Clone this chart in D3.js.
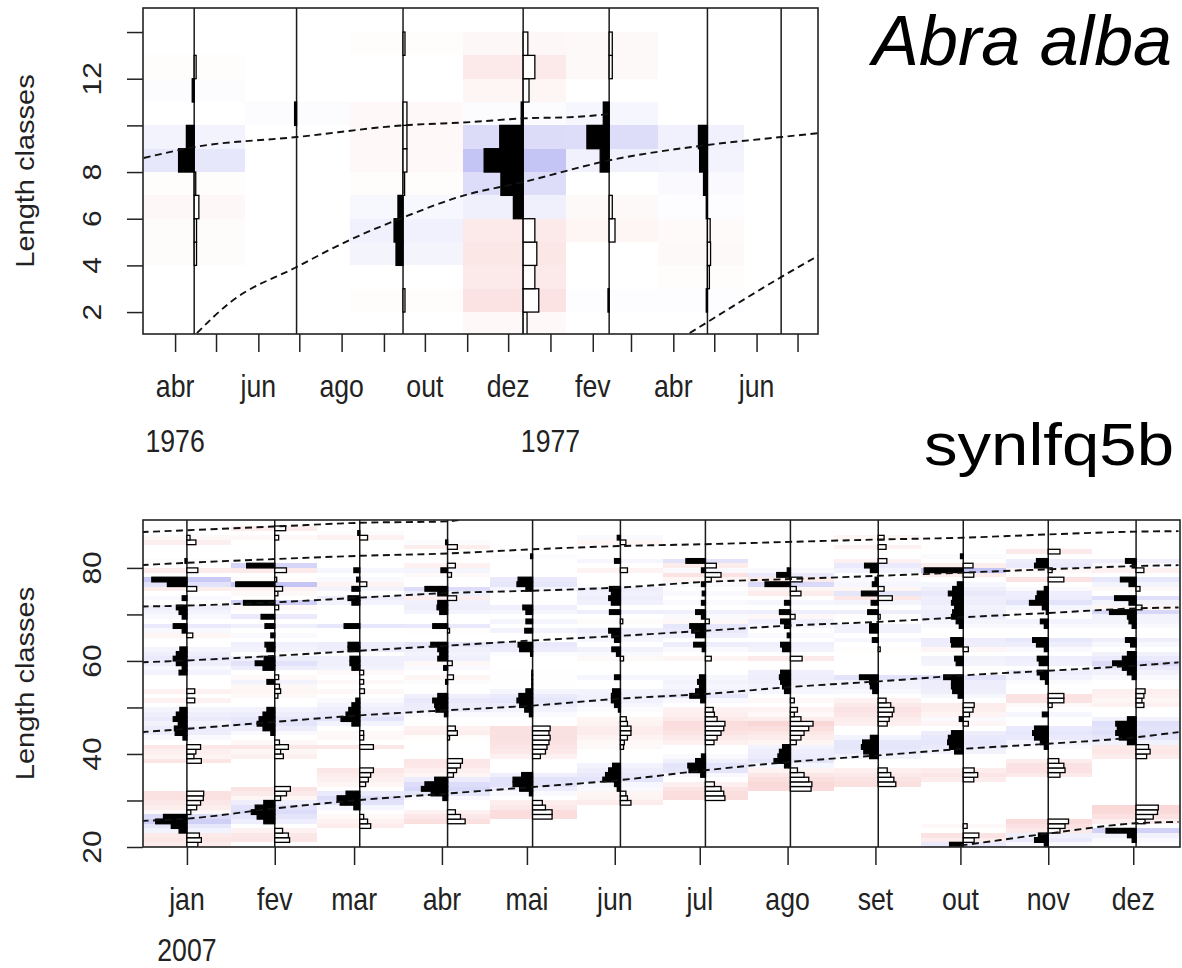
<!DOCTYPE html>
<html><head><meta charset="utf-8"><title>LFQ restructured</title>
<script src="https://cdn.jsdelivr.net/npm/d3@7/dist/d3.min.js"></script>
<style>html,body{margin:0;padding:0;background:#fff}svg{display:block}</style>
</head><body>
<svg id="chart" width="1182" height="968"></svg>
<script>
// ===================== DATA: Abra alba (top) =====================
const abraSampleDates = ["1976-04-15","1976-06-29","1976-09-15","1976-12-12","1977-02-13","1977-04-26","1977-06-19"];
// [class lower bound, restructured score]  (class width 1)
const abraApr76 = [[4,-0.06],[5,-0.06],[6,-0.12],[7,-0.04],[8,0.4],[9,0.2],[11,0.05],[12,-0.05]];
const abraJun76 = [[10,0.05]];
const abraSep76 = [[2,-0.05],[4,0.18],[5,0.23],[6,0.13],[7,-0.04],[8,-0.1],[9,-0.1],[10,-0.1],[13,-0.05]];
const abraDec76 = [[1,-0.1],[2,-0.4],[3,-0.3],[4,-0.35],[5,-0.3],[6,0.25],[7,0.57],[8,1.0],[9,0.6],[10,0.05],[11,-0.15],[12,-0.3],[13,-0.12]];
const abraFeb77 = [[2,0.03],[5,-0.15],[6,-0.08],[8,0.23],[9,0.57],[10,0.15],[12,-0.08],[13,-0.08]];
const abraApr77 = [[2,0.03],[3,-0.05],[4,-0.08],[5,-0.07],[6,0.03],[7,0.1],[8,0.2],[9,0.23]];
const abraJun77 = [];
const abraCurve1 = [["1976-03-09",8.6],["1976-04-15",9.07],["1976-06-29",9.5],["1976-09-15",10.0],["1976-11-03",10.14],["1976-12-12",10.3],["1977-01-19",10.36],["1977-02-15",10.5]];
const abraCurve2 = [["1976-04-17",1.1],["1976-05-11",2.4],["1976-06-29",3.93],["1976-08-07",5.09],["1976-09-15",6.05],["1976-10-28",6.97],["1976-12-12",7.57],["1977-02-13",8.5],["1977-04-26",9.16],["1977-06-19",9.5],["1977-07-17",9.67]];
const abraCurve3 = [["1977-04-13",1.1],["1977-04-26",1.57],["1977-06-19",3.5],["1977-07-17",4.44]];
const abraMonthTicks = ["1976-04-01","1976-05-01","1976-06-01","1976-07-01","1976-08-01","1976-09-01","1976-10-01","1976-11-01","1976-12-01","1977-01-01","1977-02-01","1977-03-01","1977-04-01","1977-05-01","1977-06-01","1977-07-01"];
const abraMonthLabels = ["abr","","jun","","ago","","out","","dez","","fev","","abr","","jun",""];
const abraYearTicks = ["1976-04-01","1977-01-01"];
const abraYearLabels = ["1976","1977"];
const abraYTicks = [2,4,6,8,10,12,14];
const abraYLabels = ["2","4","6","8","","12",""];

// ===================== DATA: synlfq5b (bottom) =====================
const synSampleDates = ["2007-01-01","2007-02-01","2007-03-03","2007-04-03","2007-05-03","2007-06-03","2007-07-03","2007-08-02","2007-09-02","2007-10-02","2007-11-01","2007-12-02"];
const synJan = [[20,-0.28],[21,-0.37],[22,-0.32],[23,0.2],[24,0.4],[25,0.8],[26,0.6],[27,-0.1],[28,-0.25],[29,-0.35],[30,-0.42],[31,-0.43],[38,-0.37],[39,-0.18],[40,-0.23],[41,-0.35],[43,0.1],[44,0.3],[45,0.32],[46,0.22],[47,0.35],[48,0.27],[49,0.18],[51,-0.2],[53,-0.2],[57,0.2],[58,0.12],[59,0.27],[60,0.35],[61,0.27],[62,0.18],[65,-0.15],[66,0.12],[67,0.35],[69,0.12],[70,0.2],[71,0.27],[73,0.12],[75,-0.25],[76,0.5],[77,0.9],[79,-0.28],[81,0.05],[85,-0.23],[86,-0.08]];
const synFev = [[21,-0.38],[22,-0.35],[23,-0.2],[25,0.28],[26,0.45],[27,0.6],[28,0.5],[29,0.28],[30,-0.15],[31,-0.3],[32,-0.4],[39,-0.22],[40,-0.15],[41,-0.35],[42,-0.12],[44,0.1],[45,0.3],[46,0.45],[47,0.4],[48,0.3],[49,0.2],[52,-0.08],[53,-0.15],[54,-0.12],[55,0.2],[56,-0.1],[58,0.3],[59,0.5],[60,0.27],[62,0.2],[63,0.25],[65,0.1],[67,0.25],[69,0.35],[71,-0.1],[72,0.8],[74,-0.08],[75,-0.2],[76,1.0],[77,-0.05],[79,-0.3],[80,0.72],[86,-0.1],[88,-0.28]];
const synMar = [[24,-0.28],[25,-0.2],[26,-0.1],[28,0.15],[29,0.5],[30,0.58],[31,0.35],[33,-0.15],[34,-0.22],[35,-0.28],[36,-0.35],[41,-0.35],[43,-0.1],[44,-0.1],[46,0.2],[47,0.48],[48,0.35],[49,0.28],[50,0.2],[51,0.1],[53,-0.12],[55,-0.1],[57,-0.1],[58,0.2],[59,0.25],[60,0.25],[62,0.3],[63,0.3],[67,0.4],[72,0.2],[73,0.3],[75,0.2],[76,-0.18],[77,0.08],[79,0.15],[86,-0.2],[87,0.05]];
const synAbr = [[25,-0.45],[26,-0.33],[27,-0.2],[30,0.12],[31,0.42],[32,0.67],[33,0.58],[34,0.33],[35,-0.15],[36,-0.23],[37,-0.33],[38,-0.38],[43,-0.05],[44,-0.25],[45,-0.2],[48,0.08],[49,0.3],[50,0.33],[51,0.38],[52,0.25],[55,0.05],[56,-0.15],[58,0.1],[59,-0.12],[60,0.25],[61,0.2],[62,0.25],[63,0.43],[66,-0.05],[67,0.38],[70,0.2],[71,0.27],[72,0.25],[73,-0.23],[74,0.25],[75,0.58],[78,-0.1],[79,0.17],[80,-0.2],[84,-0.25],[85,0.05]];
const synMai = [[26,-0.5],[27,-0.5],[28,-0.33],[29,-0.25],[31,0.08],[32,0.33],[33,0.5],[34,0.5],[35,0.28],[39,-0.2],[40,-0.33],[41,-0.37],[42,-0.42],[43,-0.45],[44,-0.42],[45,-0.45],[48,0.08],[49,0.2],[50,0.33],[51,0.4],[52,0.35],[53,0.17],[54,0.02],[55,0.02],[56,0.02],[57,0.02],[61,0.05],[62,0.33],[63,0.37],[66,0.2],[68,0.17],[70,0.17],[71,0.25],[75,0.17],[76,0.4],[77,0.37],[82,0.05]];
const synJun = [[29,-0.27],[30,-0.18],[31,-0.14],[32,0.08],[33,0.15],[34,0.45],[35,0.38],[36,0.3],[37,0.2],[41,-0.08],[42,-0.1],[43,-0.18],[44,-0.27],[45,-0.27],[46,-0.18],[47,-0.15],[49,0.05],[50,0.15],[51,0.23],[52,0.23],[53,0.2],[56,0.15],[60,-0.08],[61,0.1],[62,0.22],[64,0.15],[65,0.22],[66,0.3],[68,-0.06],[70,0.28],[72,0.23],[73,0.3],[74,0.23],[75,0.28],[79,-0.18],[81,0.15],[85,-0.14],[86,0.08]];
const synJul = [[30,-0.5],[31,-0.47],[32,-0.4],[33,-0.23],[35,0.12],[36,0.42],[37,0.45],[38,0.25],[39,0.1],[42,-0.22],[43,-0.3],[44,-0.4],[45,-0.47],[46,-0.5],[47,-0.3],[48,-0.23],[49,-0.2],[51,0.12],[52,0.4],[53,0.25],[54,0.15],[55,0.2],[56,0.15],[60,-0.15],[62,0.08],[63,0.3],[65,0.25],[66,0.35],[67,0.4],[68,-0.1],[69,0.1],[70,0.25],[72,0.1],[74,0.08],[76,0.1],[77,-0.15],[78,-0.4],[79,0.1],[80,-0.28],[81,0.5]];
const synAgo = [[32,-0.53],[33,-0.55],[34,-0.47],[35,-0.35],[36,-0.18],[37,0.15],[38,0.42],[39,0.32],[40,0.28],[41,0.2],[42,-0.15],[43,-0.27],[44,-0.35],[45,-0.47],[46,-0.58],[47,-0.27],[48,-0.1],[49,-0.18],[51,-0.1],[53,0.15],[54,0.2],[55,0.25],[56,0.28],[57,0.25],[60,-0.3],[62,0.2],[63,0.25],[65,0.08],[67,0.15],[68,0.25],[69,-0.12],[70,0.28],[72,0.15],[74,-0.27],[75,-0.15],[76,0.65],[77,-0.3],[78,0.35],[79,0.08]];
const synSet = [[33,-0.45],[34,-0.4],[35,-0.32],[36,-0.23],[39,0.22],[40,0.37],[41,0.43],[42,0.4],[43,0.2],[46,-0.23],[47,-0.28],[48,-0.36],[49,-0.4],[50,-0.32],[51,-0.2],[53,0.14],[54,0.2],[55,0.22],[56,0.48],[62,-0.05],[64,0.15],[66,0.22],[67,0.22],[69,-0.05],[70,0.27],[72,0.18],[73,-0.36],[74,0.43],[75,-0.15],[76,0.15],[77,0.08],[79,0.2],[80,0.35],[81,-0.22],[84,-0.2],[86,-0.15]];
const synOut = [[20,0.35],[21,-0.28],[22,-0.4],[24,-0.1],[34,-0.27],[35,-0.37],[36,-0.28],[40,0.22],[41,0.35],[42,0.4],[43,0.38],[44,0.3],[46,-0.13],[47,0.1],[48,-0.16],[49,-0.25],[50,-0.28],[52,0.13],[53,0.27],[54,0.3],[55,0.3],[56,0.5],[59,0.18],[60,0.22],[62,-0.13],[63,0.3],[64,0.32],[67,0.1],[68,0.18],[69,0.3],[70,0.27],[71,0.22],[72,0.3],[73,0.27],[74,0.38],[75,0.27],[76,0.15],[78,-0.27],[79,1.0],[80,-0.25],[82,0.07]];
const synNov = [[20,0.1],[21,0.35],[22,0.25],[23,-0.3],[24,-0.43],[25,-0.52],[35,-0.3],[36,-0.43],[37,-0.4],[38,-0.27],[41,0.1],[42,0.2],[43,0.35],[44,0.4],[45,0.35],[48,0.15],[50,-0.1],[51,-0.4],[52,-0.4],[55,0.07],[56,0.2],[57,0.28],[59,0.23],[60,0.28],[62,0.1],[63,0.3],[64,0.4],[67,0.1],[68,0.2],[70,0.05],[71,0.15],[72,0.48],[73,0.32],[74,0.28],[75,0.1],[77,-0.4],[79,-0.1],[80,0.35],[81,0.3],[83,-0.3]];
const synDez = [[21,0.1],[22,0.22],[23,0.77],[25,-0.23],[26,-0.44],[27,-0.55],[28,-0.57],[39,-0.27],[40,-0.36],[41,-0.32],[42,0.22],[43,0.43],[44,0.52],[45,0.48],[46,0.52],[47,0.22],[50,-0.2],[51,-0.15],[52,-0.2],[53,-0.23],[56,0.1],[57,0.22],[58,0.35],[59,0.6],[60,0.35],[61,0.22],[63,0.14],[64,0.27],[67,0.1],[68,0.18],[69,0.22],[70,0.68],[71,-0.15],[72,0.18],[73,0.55],[75,-0.1],[76,0.18],[77,0.4],[79,-0.2],[80,0.1],[81,0.27]];
const synCurveA = [["2006-12-16",87.7],["2007-01-01",88.1],["2007-02-01",88.9],["2007-03-03",89.7],["2007-04-03",90.0],["2007-04-08",90.4]];
const synCurveB = [["2006-12-16",80.6],["2007-01-01",81.1],["2007-02-01",81.9],["2007-03-03",82.6],["2007-04-03",83.1],["2007-05-03",84.0],["2007-06-03",84.7],["2007-07-03",85.1],["2007-08-02",85.6],["2007-09-02",86.1],["2007-10-02",86.5],["2007-11-01",87.2],["2007-12-02",87.8],["2007-12-17",87.9]];
const synCurveC = [["2006-12-16",71.7],["2007-01-01",71.9],["2007-02-01",72.6],["2007-03-03",73.6],["2007-04-03",74.6],["2007-05-03",75.1],["2007-06-03",75.8],["2007-07-03",77.0],["2007-08-02",77.6],["2007-09-02",78.3],["2007-10-02",79.0],["2007-11-01",79.7],["2007-12-02",80.4],["2007-12-17",80.6]];
const synCurveD = [["2006-12-16",59.7],["2007-01-01",60.1],["2007-02-01",61.1],["2007-03-03",62.2],["2007-04-03",63.3],["2007-05-03",64.4],["2007-06-03",65.4],["2007-07-03",66.5],["2007-08-02",67.6],["2007-09-02",68.4],["2007-10-02",69.4],["2007-11-01",70.3],["2007-12-02",71.3],["2007-12-17",71.5]];
const synCurveE = [["2006-12-16",44.7],["2007-01-01",45.4],["2007-02-01",46.9],["2007-03-03",48.3],["2007-04-03",49.4],["2007-05-03",50.4],["2007-06-03",51.9],["2007-07-03",52.9],["2007-08-02",54.4],["2007-09-02",55.6],["2007-10-02",56.9],["2007-11-01",57.9],["2007-12-02",59.0],["2007-12-17",59.7]];
const synCurveF = [["2006-12-16",25.6],["2007-01-01",26.1],["2007-02-01",28.3],["2007-03-03",30.1],["2007-04-03",31.5],["2007-05-03",32.9],["2007-06-03",34.4],["2007-07-03",36.5],["2007-08-02",38.3],["2007-09-02",39.7],["2007-10-02",41.1],["2007-11-01",42.2],["2007-12-02",43.6],["2007-12-17",44.7]];
const synCurveG = [["2007-09-27",20.0],["2007-10-02",20.4],["2007-11-01",22.9],["2007-12-02",25.1],["2007-12-17",25.4]];
const synMonthTicks = ["2007-01-01","2007-02-01","2007-03-01","2007-04-01","2007-05-01","2007-06-01","2007-07-01","2007-08-01","2007-09-01","2007-10-01","2007-11-01","2007-12-01"];
const synMonthLabels = ["jan","fev","mar","abr","mai","jun","jul","ago","set","out","nov","dez"];
const synYearTicks = ["2007-01-01"];
const synYearLabels = ["2007"];
const synYTicks = [20,30,40,50,60,70,80];
const synYLabels = ["20","","40","","60","","80"];

// ===================== DRAWING =====================
const svg = d3.select("#chart");
const FONT = "'Liberation Sans', Arial, Helvetica, sans-serif";
const SX = 0.86; // horizontal squeeze of the axis text
const parse = d3.utcParse("%Y-%m-%d");
const cellColor = d3.scaleLinear().domain([-1, 0, 1])
  .range(["rgb(246,186,186)", "rgb(255,255,255)", "rgb(196,196,245)"]).clamp(true);
const barW = d3.scaleLinear().domain([0, 1]).range([0, 39]);

svg.append("rect").attr("width", 1182).attr("height", 968).attr("fill", "#fff");

function drawPanel(p) {
  const sd = p.sampleDates.map(parse);
  const n = sd.length;
  const start = new Date(+sd[0] - (sd[1] - sd[0]) / 2);
  const end = new Date(+sd[n - 1] + (sd[n - 1] - sd[n - 2]) / 2);
  const x = d3.scaleUtc().domain([start, end]).range([p.left, p.right]);
  const y = d3.scaleLinear().domain(p.yDomain).range([p.bottom, p.top]);
  const g = svg.append("g");
  g.append("clipPath").attr("id", p.id).append("rect")
    .attr("x", p.left).attr("y", p.top).attr("width", p.right - p.left).attr("height", p.bottom - p.top);
  const plot = g.append("g").attr("clip-path", `url(#${p.id})`);
  const bounds = sd.map((d, i) => [
    i === 0 ? start : new Date((+sd[i - 1] + +d) / 2),
    i === n - 1 ? end : new Date((+d + +sd[i + 1]) / 2)
  ]);
  const binTop = d => y(d[0] + p.binWidth);
  const binH = d => y(d[0]) - y(d[0] + p.binWidth);

  // background cells
  p.samples.forEach((s, i) => {
    plot.append("g").attr("shape-rendering", "crispEdges")
      .selectAll("rect").data(s.filter(d => d[1] !== 0)).join("rect")
      .attr("x", x(bounds[i][0])).attr("width", x(bounds[i][1]) - x(bounds[i][0]))
      .attr("y", binTop).attr("height", binH)
      .attr("fill", d => cellColor(d[1]));
  });

  // sample lines
  plot.append("g").selectAll("line").data(sd).join("line")
    .attr("x1", d => x(d)).attr("x2", d => x(d))
    .attr("y1", p.top).attr("y2", p.bottom)
    .attr("stroke", "#1a1a1a").attr("stroke-width", 1.5);

  // histogram bars (positive to the left, black; negative to the right, white)
  p.samples.forEach((s, i) => {
    const cx = x(sd[i]);
    plot.append("g").selectAll("rect").data(s.filter(d => d[1] !== 0)).join("rect")
      .attr("x", d => d[1] > 0 ? cx - barW(d[1]) : cx)
      .attr("width", d => barW(Math.abs(d[1])))
      .attr("y", binTop).attr("height", binH)
      .attr("fill", d => d[1] > 0 ? "#000" : "#fff")
      .attr("stroke", "#000").attr("stroke-width", 1.3);
  });

  // growth curves
  const line = d3.line().curve(d3.curveMonotoneX).x(d => x(parse(d[0]))).y(d => y(d[1]));
  plot.append("g").selectAll("path").data(p.curves).join("path")
    .attr("d", line).attr("fill", "none")
    .attr("stroke", "#111").attr("stroke-width", 1.9).attr("stroke-dasharray", "7,4.5");

  // box
  g.append("rect").attr("x", p.left).attr("y", p.top)
    .attr("width", p.right - p.left).attr("height", p.bottom - p.top)
    .attr("fill", "none").attr("stroke", "#222").attr("stroke-width", 1.6);

  // x axis ticks
  const xa = g.append("g").attr("transform", `translate(0,${p.bottom})`)
    .call(d3.axisBottom(x).tickValues(p.monthTicks.map(parse)).tickSize(18).tickFormat(""));
  xa.select(".domain").remove();
  xa.selectAll("line").attr("stroke", "#222").attr("stroke-width", 1.5);

  // month labels
  g.append("g").selectAll("text").data(p.monthTicks).join("text")
    .attr("transform", d => `translate(${x(parse(d))},${p.monthY}) scale(${SX},1)`)
    .attr("text-anchor", "middle").attr("font-family", FONT).attr("font-size", 31).attr("fill", "#222")
    .text((d, i) => p.monthLabels[i]);
  // year labels
  g.append("g").selectAll("text").data(p.yearTicks).join("text")
    .attr("transform", d => `translate(${x(parse(d))},${p.yearY}) scale(${SX},1)`)
    .attr("text-anchor", "middle").attr("font-family", FONT).attr("font-size", 31).attr("fill", "#222")
    .text((d, i) => p.yearLabels[i]);

  // y axis ticks
  const ya = g.append("g").attr("transform", `translate(${p.left},0)`)
    .call(d3.axisLeft(y).tickValues(p.yTicks).tickSize(16).tickFormat(""));
  ya.select(".domain").remove();
  ya.selectAll("line").attr("stroke", "#222").attr("stroke-width", 1.5);
  g.append("g").selectAll("text").data(p.yTicks).join("text")
    .attr("transform", d => `translate(101,${y(d)}) scale(${SX},1) rotate(-90)`)
    .attr("text-anchor", "middle").attr("font-family", FONT).attr("font-size", 30).attr("fill", "#222")
    .text((d, i) => p.yLabels[i]);

  // y axis title
  g.append("text")
    .attr("transform", `translate(34,${(p.top + p.bottom) / 2}) scale(${SX},1) rotate(-90)`)
    .attr("text-anchor", "middle").attr("font-family", FONT).attr("font-size", 29).attr("fill", "#222")
    .text("Length classes");
}

drawPanel({
  id: "clipTop", left: 143, right: 818, top: 8, bottom: 334,
  yDomain: [1.06, 15.03], binWidth: 1,
  sampleDates: abraSampleDates,
  samples: [abraApr76, abraJun76, abraSep76, abraDec76, abraFeb77, abraApr77, abraJun77],
  curves: [abraCurve1, abraCurve2, abraCurve3],
  monthTicks: abraMonthTicks, monthLabels: abraMonthLabels,
  yearTicks: abraYearTicks, yearLabels: abraYearLabels,
  yTicks: abraYTicks, yLabels: abraYLabels,
  monthY: 397, yearY: 452
});

drawPanel({
  id: "clipBottom", left: 143, right: 1180, top: 520, bottom: 847,
  yDomain: [20, 90.3], binWidth: 1,
  sampleDates: synSampleDates,
  samples: [synJan, synFev, synMar, synAbr, synMai, synJun, synJul, synAgo, synSet, synOut, synNov, synDez],
  curves: [synCurveA, synCurveB, synCurveC, synCurveD, synCurveE, synCurveF, synCurveG],
  monthTicks: synMonthTicks, monthLabels: synMonthLabels,
  yearTicks: synYearTicks, yearLabels: synYearLabels,
  yTicks: synYTicks, yLabels: synYLabels,
  monthY: 910, yearY: 961
});

// titles
svg.append("text").attr("x", 1172).attr("y", 65).attr("text-anchor", "end")
  .attr("font-family", FONT).attr("font-style", "italic").attr("font-size", 70).attr("fill", "#000")
  .text("Abra alba");
svg.append("text").attr("x", 1174).attr("y", 465).attr("text-anchor", "end")
  .attr("font-family", FONT).attr("font-size", 60).attr("fill", "#000")
  .attr("textLength", 250).attr("lengthAdjust", "spacingAndGlyphs")
  .text("synlfq5b");
</script>
</body></html>
